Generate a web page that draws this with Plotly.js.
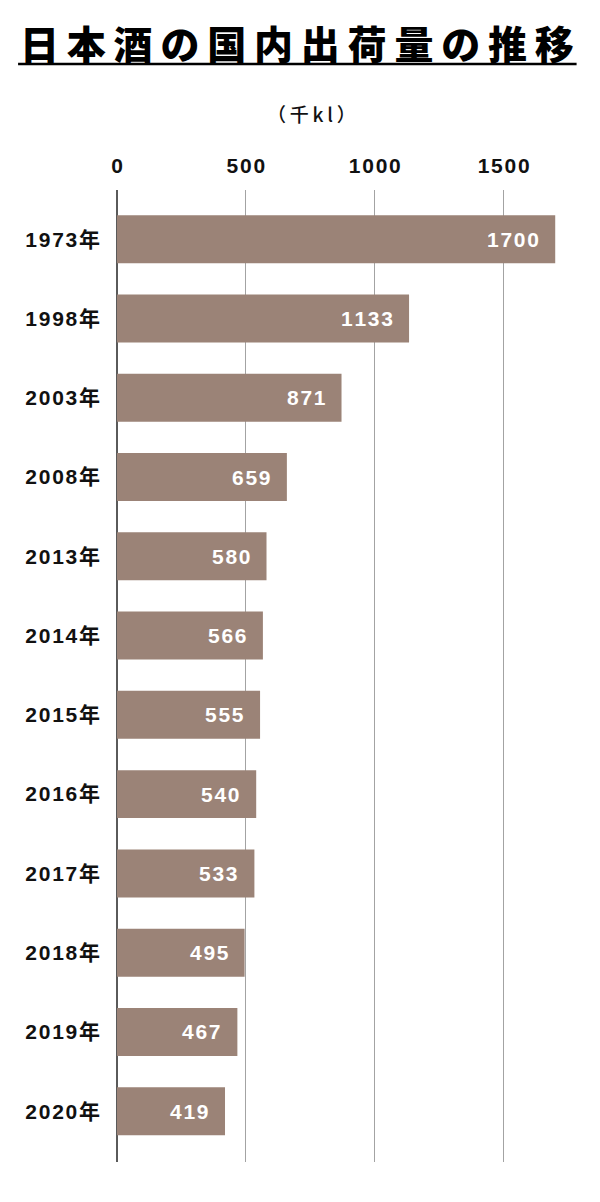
<!DOCTYPE html>
<html><head><meta charset="utf-8">
<script src="https://cdn.plot.ly/plotly-3.0.1.min.js"></script>
<style>body{margin:0;background:#fff}#c{width:600px;height:1202px}</style>
</head><body><div id="c"></div>
<script>
const years = ["1973年","1998年","2003年","2008年","2013年","2014年","2015年","2016年","2017年","2018年","2019年","2020年"];
const shipments = [1700,1133,871,659,580,566,555,540,533,495,467,419];
const tickVals = [0,500,1000,1500];
const titleText = "日本酒の国内出荷量の推移";
const unitText = "（千kl）";

const barColor = "#9b8377";
const numFont = "Liberation Sans, Arial, Noto Sans CJK JP, sans-serif";
const thin = "\u2009";
const hair = "\u200A";

const spaced = titleText.split("").join("\u2009");
const yearText = years.map(s => s.split("").join(hair));
const tickText = tickVals.map(v => String(v).split("").join(hair));
const unitSpaced = unitText.split("").join(thin);

const trace = {
  type: "bar", orientation: "h",
  x: shipments, y: years,
  marker: {color: barColor, line: {width: 0}},
  width: 0.605,
  hoverinfo: "none"
};

const valueAnns = shipments.map((v, i) => ({
  x: v, y: years[i], xref: "x", yref: "y",
  text: String(v).split("").join(hair), showarrow: false,
  xanchor: "right", xshift: -14,
  font: {family: numFont, size: 21, color: "#ffffff", weight: "bold"}
}));

const layout = {
  width: 600, height: 1202,
  margin: {l: 117, r: 18.6, t: 190, b: 40},
  paper_bgcolor: "#fff", plot_bgcolor: "#fff",
  showlegend: false,
  xaxis: {
    side: "top", range: [0, 1800], tickvals: tickVals, ticktext: tickText,
    showgrid: true, gridcolor: "#a3a3a3", gridwidth: 1,
    zeroline: true, zerolinecolor: "#5a5a5a", zerolinewidth: 1.5,
    showline: false, ticks: "", ticklabelstandoff: 12,
    tickfont: {family: numFont, size: 21, color: "#111", weight: "bold"},
    fixedrange: true
  },
  yaxis: {
    type: "category", range: [11.64, -0.62],
    tickvals: years, ticktext: yearText,
    showgrid: false, zeroline: false, showline: false, ticks: "",
    ticklabelstandoff: 16,
    tickfont: {family: numFont, size: 21, color: "#111", weight: "bold"},
    fixedrange: true
  },
  annotations: [
    {xref: "paper", yref: "paper", x: 0.3876, y: 1.152, text: spaced,
     showarrow: false, xanchor: "center", yanchor: "middle",
     font: {family: "Noto Sans CJK JP, sans-serif", size: 39, color: "#000", weight: 900}},
    {xref: "paper", yref: "paper", x: 0.4199, y: 1.0782, text: unitSpaced,
     showarrow: false, xanchor: "center", yanchor: "middle",
     font: {family: "Noto Sans CJK JP, sans-serif", size: 19, color: "#111", weight: 500}}
  ].concat(valueAnns),
  shapes: [
    {type: "line", xref: "paper", yref: "paper", x0: -0.2132, x1: 0.9905, y0: 1.1296, y1: 1.1296,
     line: {color: "#000", width: 2.5}}
  ]
};

Plotly.newPlot("c", [trace], layout, {displayModeBar: false, staticPlot: true});
</script></body></html>
